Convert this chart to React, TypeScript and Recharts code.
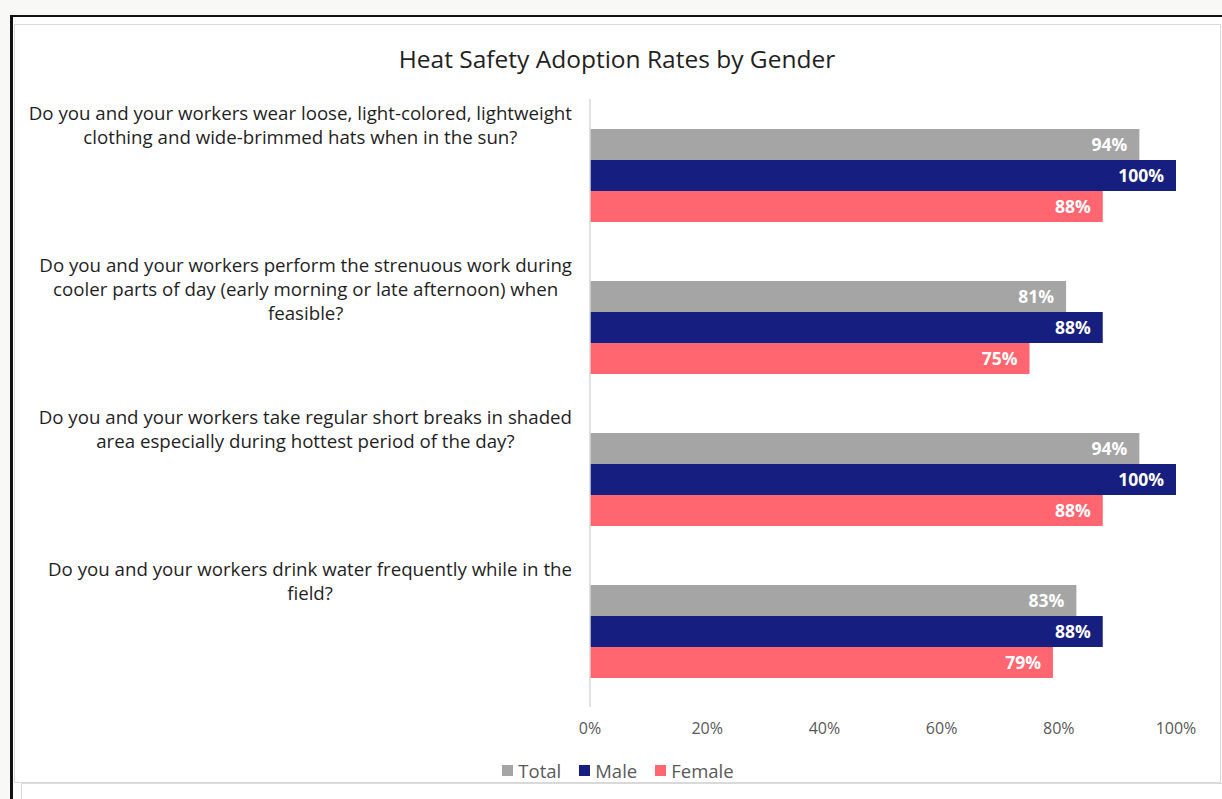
import React from "react";
import { BarChart, Bar, XAxis, YAxis, LabelList } from "recharts";

// questions, already wrapped the way the source chart shows them
const questions: string[][] = [
  ["Do you and your workers wear loose, light-colored, lightweight", "clothing and wide-brimmed hats when in the sun?"],
  ["Do you and your workers perform the strenuous work during", "cooler parts of day (early morning or late afternoon) when", "feasible?"],
  ["Do you and your workers take regular short breaks in shaded", "area especially during hottest period of the day?"],
  ["Do you and your workers drink water frequently while in the", "field?"],
];

const totalRates = [0.9375, 0.8125, 0.9375, 0.83];
const maleRates = [1, 0.875, 1, 0.875];
const femaleRates = [0.875, 0.75, 0.875, 0.79];

const xTicks = [0, 0.2, 0.4, 0.6, 0.8, 1];

const series = [
  { key: "total", name: "Total", color: "#a5a5a5" },
  { key: "male", name: "Male", color: "#161e80" },
  { key: "female", name: "Female", color: "#ff6670" },
];

const data = questions.map((lines, i) => ({
  name: lines.join(" "),
  lines,
  total: totalRates[i],
  male: maleRates[i],
  female: femaleRates[i],
}));

const FONT = "'Open Sans', 'Noto Sans', sans-serif";
const LABEL_SIZE = 18.7;
const PLOT_TOP = 99;
const PLOT_BOTTOM = 707;
const BAND = (PLOT_BOTTOM - PLOT_TOP) / questions.length;

let ctx: CanvasRenderingContext2D | null = null;
function textWidth(s: string) {
  if (!ctx) ctx = document.createElement("canvas").getContext("2d");
  if (!ctx) return s.length * 9.6;
  ctx.font = `${LABEL_SIZE}px 'Open Sans'`;
  return ctx.measureText(s).width;
}

const pct = (v: any) => `${Math.round(Number(v) * 100)}%`;

function QuestionTick(props: any) {
  const { x, y, payload } = props;
  const row = data.find((d) => d.name === payload.value);
  const lines = row ? row.lines : [String(payload.value)];
  const w = Math.max(...lines.map(textWidth));
  const cx = x - w / 2;
  const top = y - BAND / 2 + 14;
  return (
    <g>
      {lines.map((l, i) => (
        <text
          key={i}
          x={cx}
          y={top + i * 24}
          dy="0.35em"
          textAnchor="middle"
          fontSize={LABEL_SIZE}
          fontFamily={FONT}
          fill="#1f1f1f"
        >
          {l}
        </text>
      ))}
    </g>
  );
}

export default function App() {
  return (
    <div style={{ position: "fixed", left: 0, top: 0, width: 1222, height: 799, background: "#f8f8f6", overflow: "hidden" }}>
      {/* black outer frame */}
      <div style={{ position: "absolute", left: 10, top: 15, width: 1230, height: 800, borderLeft: "3px solid #111", borderTop: "2px solid #111", background: "#fff" }} />
      {/* chart box */}
      <div style={{ position: "absolute", left: 14, top: 24, width: 1205, height: 757, border: "1px solid #d9d9d9", background: "#fff" }} />
      {/* next box peeking in underneath */}
      <div style={{ position: "absolute", left: 21, top: 783, width: 1210, height: 30, borderLeft: "1px solid #d9d9d9", borderTop: "1px solid #d9d9d9", background: "#fff" }} />

      <div style={{ position: "absolute", left: 14, top: 42, width: 1206, textAlign: "center", fontFamily: FONT, fontSize: 24.5, lineHeight: "34px", color: "#1f1f1f" }}>
        Heat Safety Adoption Rates by Gender
      </div>

      <div style={{ position: "absolute", left: 0, top: 0 }}>
        <BarChart
          width={1222}
          height={799}
          data={data}
          layout="vertical"
          margin={{ top: PLOT_TOP, right: 46, bottom: 799 - PLOT_BOTTOM - 40, left: 14 }}
          barGap={0}
        >
          <XAxis
            type="number"
            domain={[0, 1]}
            ticks={xTicks}
            tickFormatter={pct}
            axisLine={false}
            tickLine={false}
            tickSize={0}
            tickMargin={16}
            height={40}
            tick={{ fontSize: 16, fontFamily: FONT, fill: "#595959" }}
          />
          <YAxis
            type="category"
            dataKey="name"
            width={576}
            axisLine={{ stroke: "#d9d9d9", strokeWidth: 1.5 }}
            tickLine={false}
            tickSize={0}
            tickMargin={18}
            tick={<QuestionTick />}
            interval={0}
          />
          {series.map((s) => (
            <Bar key={s.key} dataKey={s.key} name={s.name} fill={s.color} barSize={31} isAnimationActive={false}>
              <LabelList
                dataKey={s.key}
                position="insideRight"
                offset={12}
                formatter={pct}
                fill="#fff"
                fontSize={17.5}
                fontWeight="bold"
                fontFamily={FONT}
              />
            </Bar>
          ))}
        </BarChart>
      </div>

      {/* legend */}
      <div style={{ position: "absolute", left: 0, top: 758, width: 1236, display: "flex", justifyContent: "center", gap: 18, fontFamily: FONT, fontSize: 18.5, color: "#595959" }}>
        {series.map((s) => (
          <div key={s.key} style={{ display: "flex", alignItems: "center", gap: 5 }}>
            <span style={{ display: "inline-block", width: 11, height: 11, background: s.color }} />
            <span>{s.name}</span>
          </div>
        ))}
      </div>
    </div>
  );
}
